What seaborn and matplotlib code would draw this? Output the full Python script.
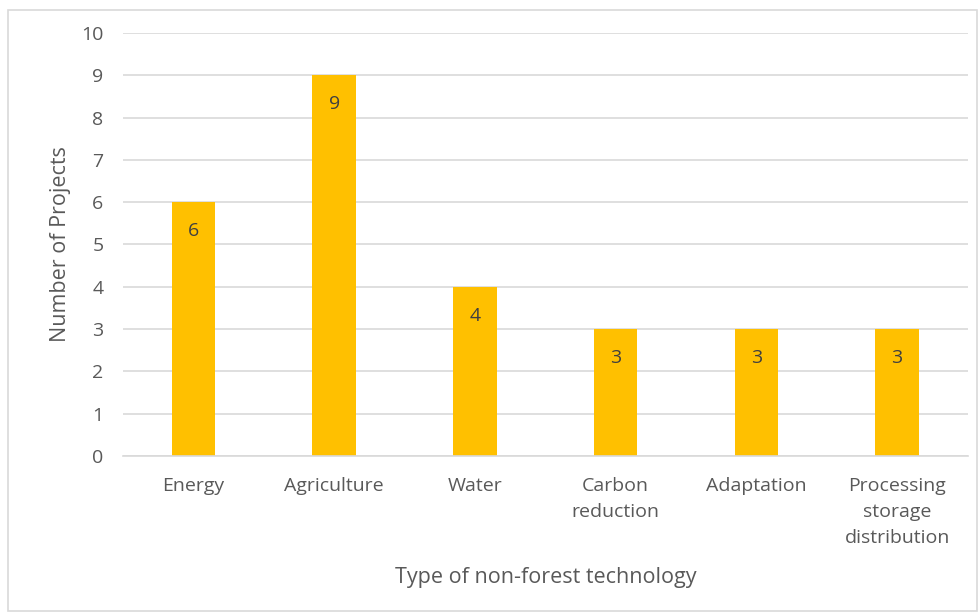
import matplotlib
matplotlib.use("Agg")
import matplotlib.pyplot as plt
import seaborn as sns
import pandas as pd
from matplotlib.patches import Rectangle

categories = ["Energy", "Agriculture", "Water", "Carbon\nreduction", "Adaptation",
              "Processing\nstorage\ndistribution"]
projects = [6, 9, 4, 3, 3, 3]
y_ticks = list(range(0, 11))

sns.set_theme(style="white")
plt.rcParams['font.family'] = ['Open Sans', 'DejaVu Sans']

df = pd.DataFrame({"cat": categories, "n": projects})

fig = plt.figure(figsize=(9.8, 6.13), dpi=100)
ax = fig.add_axes([123/980, 1-456/613, (967.5-123)/980, (456-33)/613])

sns.barplot(data=df, x="cat", y="n", color="#FFC000", width=0.31, ax=ax,
            saturation=1, edgecolor="none")

ax.set_ylim(0, 10)
ax.set_yticks(y_ticks)
ax.set_xlim(-0.5, len(categories) - 0.5)
ax.yaxis.grid(True, color="#D9D9D9", linewidth=1.2)
ax.set_axisbelow(True)
for s in ["top", "right", "left"]:
    ax.spines[s].set_visible(False)
ax.spines["bottom"].set_color("#D9D9D9")
ax.spines["bottom"].set_linewidth(1.2)
ax.tick_params(axis="both", length=0, labelsize=14, colors="#595959")
ax.tick_params(axis="x", pad=15)
ax.tick_params(axis="y", pad=14)
for lbl in ax.get_xticklabels():
    lbl.set_linespacing(1.56)

ax.set_xlabel("Type of non-forest technology", fontsize=15.5, color="#595959", labelpad=15)
ax.set_ylabel("Number of Projects", fontsize=15.5, color="#595959", labelpad=7)

for i, v in enumerate(projects):
    ax.annotate(str(v), xy=(i, v), xytext=(0, -21), textcoords="offset points",
                ha="center", va="center", fontsize=14, color="#404040")

fig.patches.append(Rectangle((8/980, 1-611/613), (977-8)/980, (611-10)/613,
                             transform=fig.transFigure, fill=False,
                             edgecolor="#D9D9D9", linewidth=1.2))

fig.savefig("out.png", dpi=100, facecolor="white")
